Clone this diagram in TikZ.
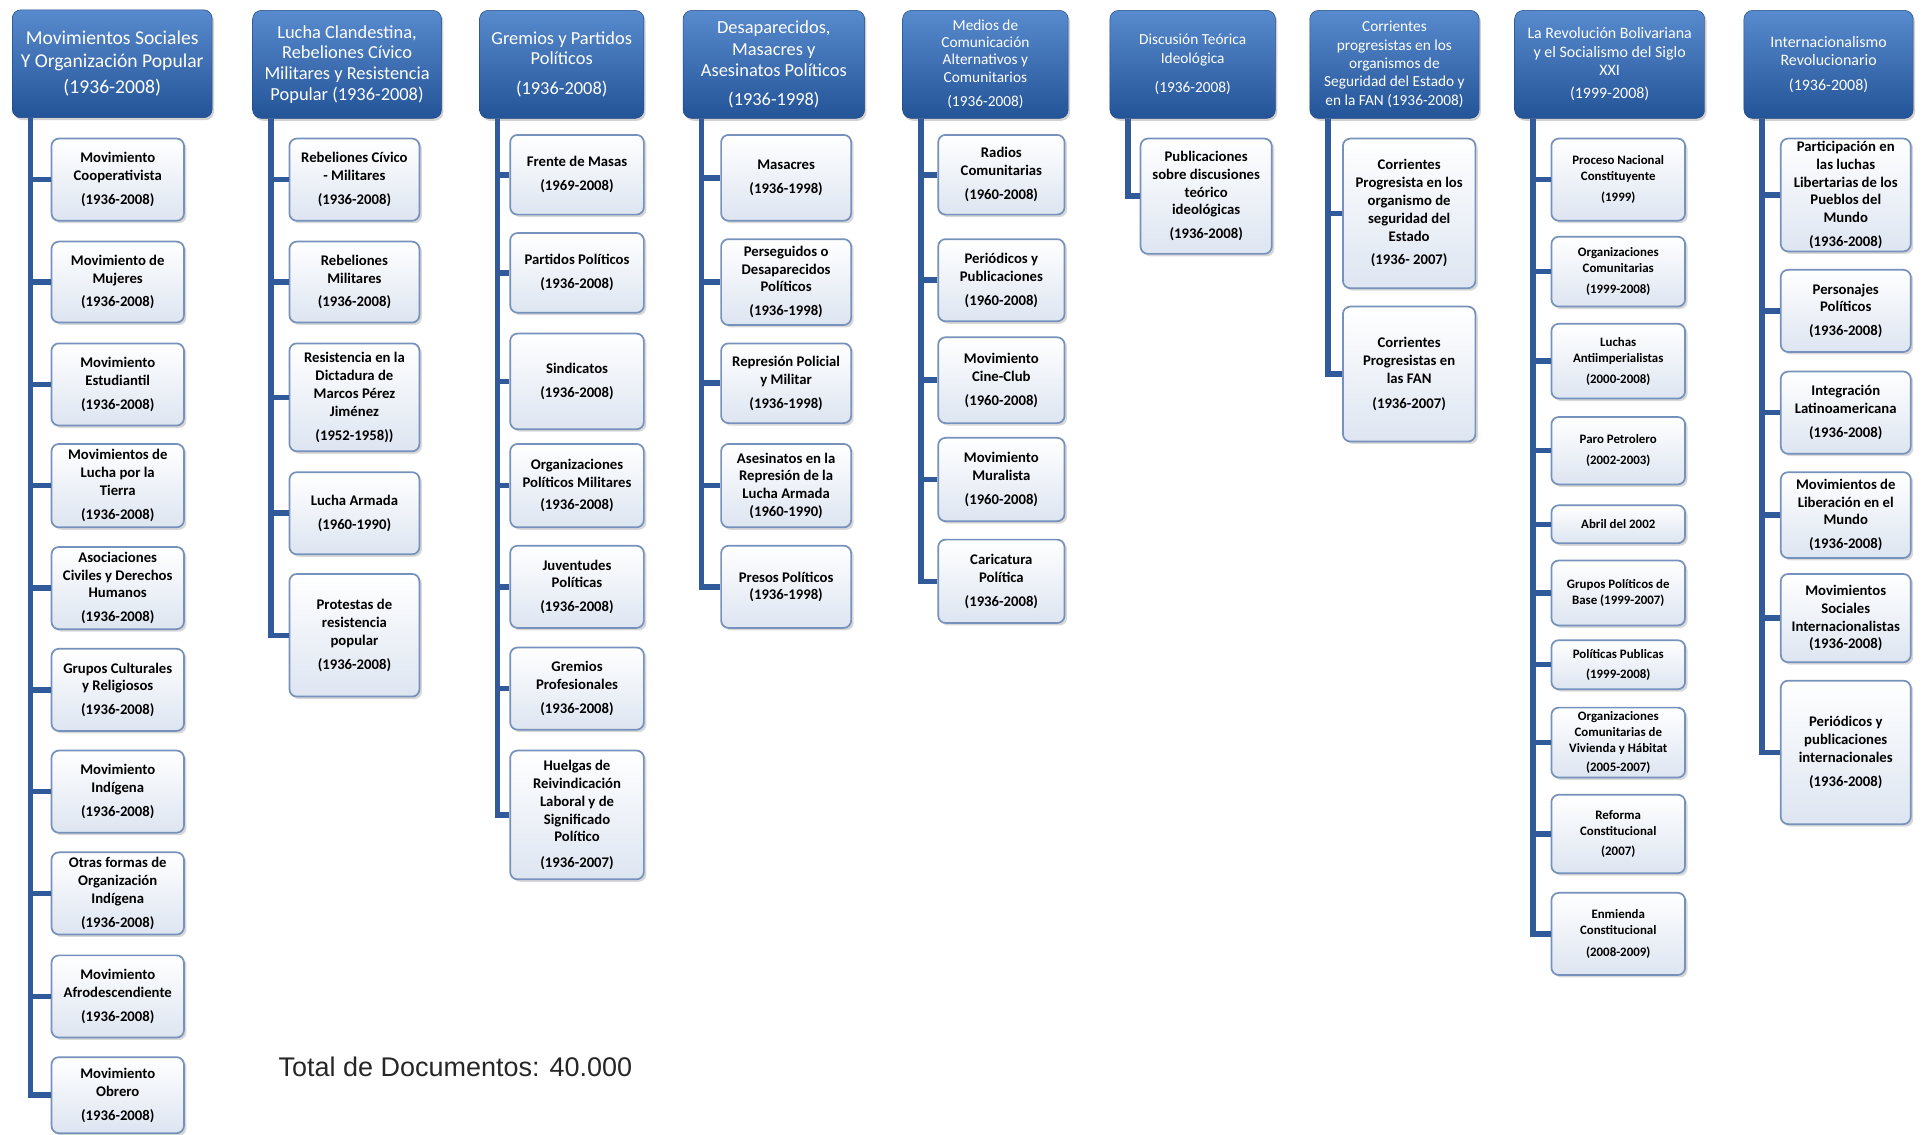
\documentclass[tikz,border=0pt]{standalone}
\usepackage{fontspec}
\setmainfont{Carlito}
\newfontfamily\arialfont{Liberation Sans}
\usetikzlibrary{positioning,shadows}

\definecolor{hdrtop}{RGB}{88,138,206}
\definecolor{hdrbot}{RGB}{36,84,152}
\definecolor{itemline}{RGB}{118,146,188}
\definecolor{itembot}{RGB}{221,229,241}
\definecolor{trunkblue}{RGB}{48,90,154}

\tikzset{
  topic/.style={rounded corners=7pt, top color=hdrtop, bottom color=hdrbot,
    draw=hdrbot!85!black, text=white, align=center, inner sep=2pt,
    drop shadow={opacity=0.35, shadow xshift=1.5pt, shadow yshift=-2pt}},
  item/.style={rounded corners=6pt, draw=itemline, line width=1.4pt,
    top color=white, bottom color=itembot, text=black, align=center,
    inner sep=1pt, font=\bfseries\fontsize{12}{14.5}\selectfont,
    drop shadow={opacity=0.3, shadow xshift=2pt, shadow yshift=-2pt}},
  smallitem/.style={item, font=\bfseries\fontsize{10.5}{13}\selectfont},
  trunk/.style={draw=trunkblue, line width=4.5pt},
}

\begin{document}
\begin{tikzpicture}[x=1pt,y=-1pt]
    \fill[white] (0,0) rectangle (1568,925);
    \useasboundingbox (0,0) rectangle (1568,925);
    %Headers
    \node[topic, minimum width=163, minimum height=88, font=\fontsize{16}{19}\selectfont] (h1) at (91.5,52) {Movimientos Sociales\\Y Organización Popular\\[2pt](1936-2008)};
    \node[topic, minimum width=154, minimum height=88, font=\fontsize{15}{17}\selectfont] (h2) at (283,52.5) {Lucha Clandestina,\\Rebeliones Cívico\\Militares y Resistencia\\Popular (1936-2008)};
    \node[topic, minimum width=134, minimum height=88, font=\fontsize{15}{16.5}\selectfont] (h3) at (458,52.5) {Gremios y Partidos\\Políticos\\[8pt](1936-2008)};
    \node[topic, minimum width=148, minimum height=88, font=\fontsize{15}{17.5}\selectfont] (h4) at (631,52.5) {Desaparecidos,\\Masacres y\\Asesinatos Políticos\\[6pt](1936-1998)};
    \node[topic, minimum width=135, minimum height=88, font=\fontsize{12.5}{14}\selectfont] (h5) at (803.5,52.5) {Medios de\\Comunicación\\Alternativos y\\Comunitarios\\[6pt](1936-2008)};
    \node[topic, minimum width=135, minimum height=88, font=\fontsize{12.5}{15}\selectfont] (h6) at (972.5,52.5) {Discusión Teórica\\Ideológica\\[9pt](1936-2008)};
    \node[topic, minimum width=138, minimum height=88, font=\fontsize{12.5}{15}\selectfont] (h7) at (1137,52.5) {Corrientes\\progresistas en los\\organismos de\\Seguridad del Estado y\\en la FAN (1936-2008)};
    \node[topic, minimum width=155, minimum height=88, font=\fontsize{13}{15}\selectfont] (h8) at (1312.5,52.5) {La Revolución Bolivariana\\y el Socialismo del Siglo\\XXI\\[4pt](1999-2008)};
    \node[topic, minimum width=138, minimum height=88, font=\fontsize{13}{14.5}\selectfont] (h9) at (1491,52.5) {Internacionalismo\\Revolucionario\\[6pt](1936-2008)};

    %Movimientos Sociales
    \node[item, minimum width=108, minimum height=67] (c1-1) at (96,146.5) {Movimiento\\Cooperativista\\[5pt](1936-2008)};
    \node[item, minimum width=108, minimum height=66] (c1-2) at (96,230) {Movimiento de\\Mujeres\\[5pt](1936-2008)};
    \node[item, minimum width=108, minimum height=67] (c1-3) at (96,313.5) {Movimiento\\Estudiantil\\[5pt](1936-2008)};
    \node[item, minimum width=108, minimum height=68] (c1-4) at (96,396) {Movimientos de\\Lucha por la\\Tierra\\[5pt](1936-2008)};
    \node[item, minimum width=108, minimum height=67] (c1-5) at (96,479.5) {Asociaciones\\Civiles y Derechos\\Humanos\\[5pt](1936-2008)};
    \node[item, minimum width=108, minimum height=67] (c1-6) at (96,562.5) {Grupos Culturales\\y Religiosos\\[5pt](1936-2008)};
    \node[item, minimum width=108, minimum height=67] (c1-7) at (96,645.5) {Movimiento\\Indígena\\[5pt](1936-2008)};
    \node[item, minimum width=108, minimum height=67] (c1-8) at (96,728.5) {Otras formas de\\Organización\\Indígena\\[5pt](1936-2008)};
    \node[item, minimum width=108, minimum height=67] (c1-9) at (96,812.5) {Movimiento\\Afrodescendiente\\[5pt](1936-2008)};
    \node[item, minimum width=108, minimum height=62] (c1-10) at (96,893) {Movimiento\\Obrero\\[5pt](1936-2008)};

    %Lucha Clandestina
    \node[item, minimum width=106, minimum height=67] (c2-1) at (289,146.5) {Rebeliones Cívico\\- Militares\\[5pt](1936-2008)};
    \node[item, minimum width=106, minimum height=66] (c2-2) at (289,230) {Rebeliones\\Militares\\[5pt](1936-2008)};
    \node[item, minimum width=106, minimum height=88] (c2-3) at (289,324) {Resistencia en la\\Dictadura de\\Marcos Pérez\\Jiménez\\[5pt](1952-1958))};
    \node[item, minimum width=106, minimum height=67] (c2-4) at (289,418.5) {Lucha Armada\\[5pt](1960-1990)};
    \node[item, minimum width=106, minimum height=100] (c2-5) at (289,518) {Protestas de\\resistencia\\popular\\[5pt](1936-2008)};

    %Gremios y Partidos
    \node[item, minimum width=109, minimum height=65] (c3-1) at (470.5,142.5) {Frente de Masas\\[5pt](1969-2008)};
    \node[item, minimum width=109, minimum height=65] (c3-2) at (470.5,222.5) {Partidos Políticos\\[5pt](1936-2008)};
    \node[item, minimum width=109, minimum height=78] (c3-3) at (470.5,311) {Sindicatos\\[5pt](1936-2008)};
    \node[item, minimum width=109, minimum height=68] (c3-4) at (470.5,396) {Organizaciones\\Políticos Militares\\[4pt](1936-2008)};
    \node[item, minimum width=109, minimum height=67] (c3-5) at (470.5,478.5) {Juventudes\\Políticas\\[5pt](1936-2008)};
    \node[item, minimum width=109, minimum height=67] (c3-6) at (470.5,561.5) {Gremios\\Profesionales\\[5pt](1936-2008)};
    \node[item, minimum width=109, minimum height=105] (c3-7) at (470.5,664.5) {Huelgas de\\Reivindicación\\Laboral y de\\Significado\\Político\\[6pt](1936-2007)};

    %Desaparecidos
    \node[item, minimum width=106, minimum height=70] (c4-1) at (641,145) {Masacres\\[5pt](1936-1998)};
    \node[item, minimum width=106, minimum height=70] (c4-2) at (641,230) {Perseguidos o\\Desaparecidos\\Políticos\\[5pt](1936-1998)};
    \node[item, minimum width=106, minimum height=65] (c4-3) at (641,312.5) {Represión Policial\\y Militar\\[5pt](1936-1998)};
    \node[item, minimum width=106, minimum height=68] (c4-4) at (641,396) {Asesinatos en la\\Represión de la\\Lucha Armada\\(1960-1990)};
    \node[item, minimum width=106, minimum height=67] (c4-5) at (641,478.5) {Presos Políticos\\(1936-1998)};

    %Medios de Comunicacion
    \node[item, minimum width=103, minimum height=65] (c5-1) at (816.5,142.5) {Radios\\Comunitarias\\[5pt](1960-2008)};
    \node[item, minimum width=103, minimum height=67] (c5-2) at (816.5,228.5) {Periódicos y\\Publicaciones\\[5pt](1960-2008)};
    \node[item, minimum width=103, minimum height=70] (c5-3) at (816.5,310) {Movimiento\\Cine-Club\\[5pt](1960-2008)};
    \node[item, minimum width=103, minimum height=68] (c5-4) at (816.5,391) {Movimiento\\Muralista\\[5pt](1960-2008)};
    \node[item, minimum width=103, minimum height=68] (c5-5) at (816.5,474) {Caricatura\\Política\\[5pt](1936-2008)};

    %Discusion Teorica
    \node[item, minimum width=107, minimum height=94] (c6-1) at (983.5,160) {Publicaciones\\sobre discusiones\\teórico\\ideológicas\\[5pt](1936-2008)};

    %Corrientes progresistas
    \node[item, minimum width=108, minimum height=122] (c7-1) at (1149,174) {Corrientes\\Progresista en los\\organismo de\\seguridad del\\Estado\\[5pt](1936- 2007)};
    \node[item, minimum width=108, minimum height=110] (c7-2) at (1149,305) {Corrientes\\Progresistas en\\las FAN\\[6pt](1936-2007)};

    %Revolucion Bolivariana
    \node[smallitem, minimum width=109, minimum height=67] (c8-1) at (1319.5,146.5) {Proceso Nacional\\Constituyente\\[4pt](1999)};
    \node[smallitem, minimum width=109, minimum height=57] (c8-2) at (1319.5,221.5) {Organizaciones\\Comunitarias\\[4pt](1999-2008)};
    \node[smallitem, minimum width=109, minimum height=61] (c8-3) at (1319.5,294.5) {Luchas\\Antiimperialistas\\[4pt](2000-2008)};
    \node[smallitem, minimum width=109, minimum height=55] (c8-4) at (1319.5,367.5) {Paro Petrolero\\[4pt](2002-2003)};
    \node[smallitem, minimum width=109, minimum height=31] (c8-5) at (1319.5,427.5) {Abril del 2002};
    \node[smallitem, minimum width=109, minimum height=53] (c8-6) at (1319.5,483.5) {Grupos Políticos de\\Base (1999-2007)};
    \node[smallitem, minimum width=109, minimum height=40] (c8-7) at (1319.5,542) {Políticas Publicas\\[3pt](1999-2008)};
    \node[smallitem, minimum width=109, minimum height=57] (c8-8) at (1319.5,605.5) {Organizaciones\\Comunitarias de\\Vivienda y Hábitat\\[3pt](2005-2007)};
    \node[smallitem, minimum width=109, minimum height=64] (c8-9) at (1319.5,680) {Reforma\\Constitucional\\[4pt](2007)};
    \node[smallitem, minimum width=109, minimum height=67] (c8-10) at (1319.5,761.5) {Enmienda\\Constitucional\\[5pt](2008-2009)};

    %Internacionalismo
    \node[item, minimum width=106, minimum height=92] (c9-1) at (1505,159) {Participación en\\las luchas\\Libertarias de los\\Pueblos del\\Mundo\\[5pt](1936-2008)};
    \node[item, minimum width=106, minimum height=67] (c9-2) at (1505,253.5) {Personajes\\Políticos\\[5pt](1936-2008)};
    \node[item, minimum width=106, minimum height=67] (c9-3) at (1505,336.5) {Integración\\Latinoamericana\\[5pt](1936-2008)};
    \node[item, minimum width=106, minimum height=70] (c9-4) at (1505,420) {Movimientos de\\Liberación en el\\Mundo\\[5pt](1936-2008)};
    \node[item, minimum width=106, minimum height=72] (c9-5) at (1505,504) {Movimientos\\Sociales\\Internacionalistas\\(1936-2008)};
    \node[item, minimum width=106, minimum height=117] (c9-6) at (1505,613.5) {Periódicos y\\publicaciones\\internacionales\\[5pt](1936-2008)};

    %Trunks
    \foreach \col/\last in {1/10,2/5,3/7,4/5,5/5,6/1,7/2,8/10,9/6}{
      \coordinate (t\col) at ([xshift=15pt]h\col.south west);
      \draw[trunk] (t\col) |- (c\col-\last.west);
      \foreach \k in {1,...,\last}
        \draw[trunk] (c\col-\k.west) -- (c\col-\k.west -| t\col);
    }

    %Total
    \node[anchor=west, inner sep=0pt, text=black!85, font=\arialfont\fontsize{22}{26}\selectfont] (total) at (227,870) {Total de Documentos: 40.000};
\end{tikzpicture}
\end{document}
